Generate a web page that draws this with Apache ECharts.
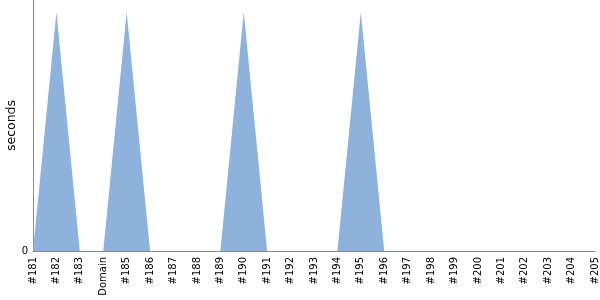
<!DOCTYPE html>
<html><head><meta charset="utf-8">
<script src="https://cdn.jsdelivr.net/npm/echarts@6/dist/echarts.min.js"></script>
<style>html,body{margin:0;padding:0;background:#fff}#c{width:600px;height:300px}</style>
</head><body><div id="c"></div>
<script>
const categories = ['#181','#182','#183','Domain','#185','#186','#187','#188','#189','#190','#191','#192','#193','#194','#195','#196','#197','#198','#199','#200','#201','#202','#203','#204','#205'];
const seconds = [0,1,0,0,1,0,0,0,0,1,0,0,0,0,1,0,0,0,0,0,0,0,0,0,0];
const yMax = 1.05;
const chart = echarts.init(document.getElementById('c'), null, {renderer:'canvas'});
chart.setOption({
  animation:false,
  grid:{left:33,right:5,top:0,bottom:49,containLabel:false,outerBoundsMode:'none'},
  xAxis:{type:'category',data:categories,boundaryGap:false,
    axisLine:{lineStyle:{color:'#888',width:1}},axisTick:{show:false},
    axisLabel:{rotate:90,interval:0,color:'#000',fontFamily:'DejaVu Sans',fontSize:10,margin:6}},
  yAxis:{type:'value',min:0,max:yMax,interval:yMax,name:'seconds',nameLocation:'middle',nameGap:15,nameMoveOverlap:false,
    nameTextStyle:{color:'#000',fontFamily:'DejaVu Sans',fontSize:12.5},
    axisLine:{show:true,lineStyle:{color:'#888',width:1}},axisTick:{show:false},splitLine:{show:false},
    axisLabel:{formatter:function(v){return v===0?'0':'';},color:'#000',fontFamily:'DejaVu Sans',fontSize:10,margin:5}},
  series:[{type:'line',data:seconds,symbol:'none',lineStyle:{width:0},
    areaStyle:{color:'#8fb2dc',opacity:1}}]
});
</script></body></html>
